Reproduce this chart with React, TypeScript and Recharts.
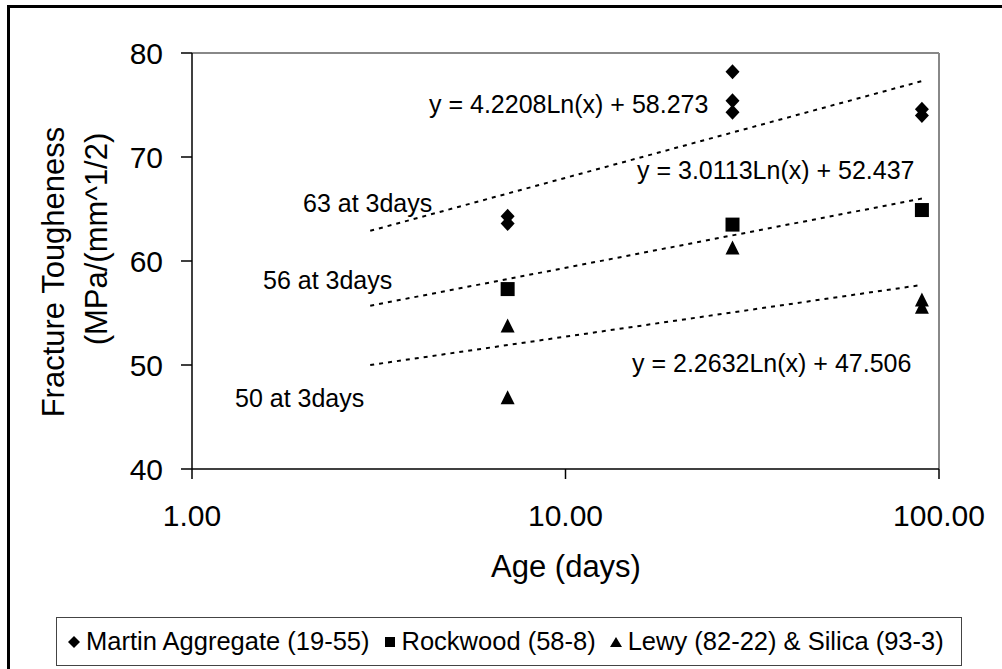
import React from 'react';
import { ScatterChart, Scatter, XAxis, YAxis, ReferenceLine } from 'recharts';

const FONT = '"Liberation Sans", Arial, Helvetica, sans-serif';

// measured points: age (days) vs fracture toughness
const martinPts = [
  { x: 7, y: 64.3 },
  { x: 7, y: 63.6 },
  { x: 28, y: 78.2 },
  { x: 28, y: 75.4 },
  { x: 28, y: 74.3 },
  { x: 90, y: 74.6 },
  { x: 90, y: 74.0 },
];
const rockwoodPts = [
  { x: 7, y: 57.3 },
  { x: 28, y: 63.5 },
  { x: 90, y: 64.9 },
];
const lewyPts = [
  { x: 7, y: 53.8 },
  { x: 7, y: 46.9 },
  { x: 28, y: 61.3 },
  { x: 90, y: 56.3 },
  { x: 90, y: 55.6 },
];

// log trendline end points (straight on a log x axis)
const martinTrend = [{ x: 3, y: 62.9 }, { x: 90, y: 77.3 }];
const rockwoodTrend = [{ x: 3, y: 55.7 }, { x: 90, y: 66.0 }];
const lewyTrend = [{ x: 3, y: 50.0 }, { x: 90, y: 57.7 }];

const xTicks = [1, 10, 100];
const yTicks = [40, 50, 60, 70, 80];

const legendItems = [
  { name: 'Martin Aggregate (19-55)', mark: 'diamond' },
  { name: 'Rockwood (58-8)', mark: 'square' },
  { name: 'Lewy (82-22) & Silica (93-3)', mark: 'triangle' },
];

const Diamond = (p: any) => (
  <polygon
    points={`${p.cx},${p.cy - 7.5} ${p.cx + 7},${p.cy} ${p.cx},${p.cy + 7.5} ${p.cx - 7},${p.cy}`}
    fill="#000"
  />
);
const Square = (p: any) => <rect x={p.cx - 7} y={p.cy - 7} width={14} height={14} fill="#000" />;
const Triangle = (p: any) => (
  <polygon
    points={`${p.cx},${p.cy - 7} ${p.cx + 7},${p.cy + 7} ${p.cx - 7},${p.cy + 7}`}
    fill="#000"
  />
);
const NoDot = () => <g />;

const trendStyle = { stroke: '#000', strokeWidth: 2, strokeDasharray: '4 5' };

const LegendMark = ({ mark }: { mark: string }) => (
  <svg width={12} height={12} style={{ marginRight: 6 }}>
    {mark === 'diamond' && <polygon points="6,0 12,6 6,12 0,6" fill="#000" />}
    {mark === 'square' && <rect x={1} y={1} width={10} height={10} fill="#000" />}
    {mark === 'triangle' && <polygon points="6,1 12,11 0,11" fill="#000" />}
  </svg>
);

const App = () => {
  return (
    <div style={{ position: 'fixed', left: 0, top: 0, width: 1002, height: 669, background: '#fff', overflow: 'hidden', fontFamily: FONT }}>
      {/* outer chart frame (left/top edges visible) */}
      <div style={{ position: 'absolute', left: 7, top: 5, width: 1100, height: 800, borderLeft: '3px solid #000', borderTop: '3px solid #000' }} />

      <div style={{ position: 'absolute', left: 0, top: 0 }}>
        <ScatterChart width={1002} height={669} margin={{ top: 53, right: 63, bottom: 140, left: 0 }}>
          <XAxis
            dataKey="x"
            type="number"
            scale="log"
            domain={[1, 100]}
            ticks={xTicks}
            allowDataOverflow
            height={60}
            stroke="#000"
            strokeWidth={1.5}
            tickSize={10}
            tickMargin={26}
            tickFormatter={(v: number) => v.toFixed(2)}
            tick={{ fontSize: 30, fill: '#000', fontFamily: FONT }}
          />
          <YAxis
            dataKey="y"
            type="number"
            domain={[40, 80]}
            ticks={yTicks}
            allowDataOverflow
            width={192}
            stroke="#000"
            strokeWidth={1.5}
            tickSize={11}
            tickMargin={18}
            tick={{ fontSize: 30, fill: '#000', fontFamily: FONT }}
          />
          <ReferenceLine y={80} stroke="#888" strokeWidth={2} />
          <ReferenceLine x={100} stroke="#888" strokeWidth={2} />

          <Scatter data={martinTrend} line={trendStyle} shape={NoDot} isAnimationActive={false} />
          <Scatter data={rockwoodTrend} line={trendStyle} shape={NoDot} isAnimationActive={false} />
          <Scatter data={lewyTrend} line={trendStyle} shape={NoDot} isAnimationActive={false} />

          <Scatter name="Martin Aggregate (19-55)" data={martinPts} shape={Diamond} isAnimationActive={false} />
          <Scatter name="Rockwood (58-8)" data={rockwoodPts} shape={Square} isAnimationActive={false} />
          <Scatter name="Lewy (82-22) & Silica (93-3)" data={lewyPts} shape={Triangle} isAnimationActive={false} />
        </ScatterChart>
      </div>

      {/* titles and trendline labels */}
      <svg width={1002} height={669} style={{ position: 'absolute', left: 0, top: 0, pointerEvents: 'none' }}>
        <g fontFamily={FONT} fill="#000">
          <text x={566} y={577} fontSize={31} textAnchor="middle">Age (days)</text>
          <text transform="translate(53,272) rotate(-90)" fontSize={31} textAnchor="middle" dominantBaseline="central">
            Fracture Tougheness
          </text>
          <text transform="translate(96,239) rotate(-90)" fontSize={31} textAnchor="middle" dominantBaseline="central">
            (MPa/(mm^1/2)
          </text>
          <text x={429} y={113} fontSize={25}>y = 4.2208Ln(x) + 58.273</text>
          <text x={637} y={179} fontSize={25}>y = 3.0113Ln(x) + 52.437</text>
          <text x={632} y={372} fontSize={25}>y = 2.2632Ln(x) + 47.506</text>
          <text x={303} y={212} fontSize={25}>63 at 3days</text>
          <text x={263} y={289} fontSize={25}>56 at 3days</text>
          <text x={235} y={407} fontSize={25}>50 at 3days</text>
        </g>
      </svg>

      {/* legend */}
      <div
        style={{
          position: 'absolute',
          left: 56,
          top: 617,
          width: 906,
          height: 49,
          boxSizing: 'border-box',
          border: '1.5px solid #444',
          display: 'flex',
          alignItems: 'center',
          paddingLeft: 11,
          fontSize: 25.5,
          color: '#000',
          whiteSpace: 'nowrap',
        }}
      >
        {legendItems.map((it, i) => (
          <span key={it.name} style={{ display: 'flex', alignItems: 'center', marginRight: i < legendItems.length - 1 ? 14 : 0 }}>
            <LegendMark mark={it.mark} />
            {it.name}
          </span>
        ))}
      </div>
    </div>
  );
};

export default App;
